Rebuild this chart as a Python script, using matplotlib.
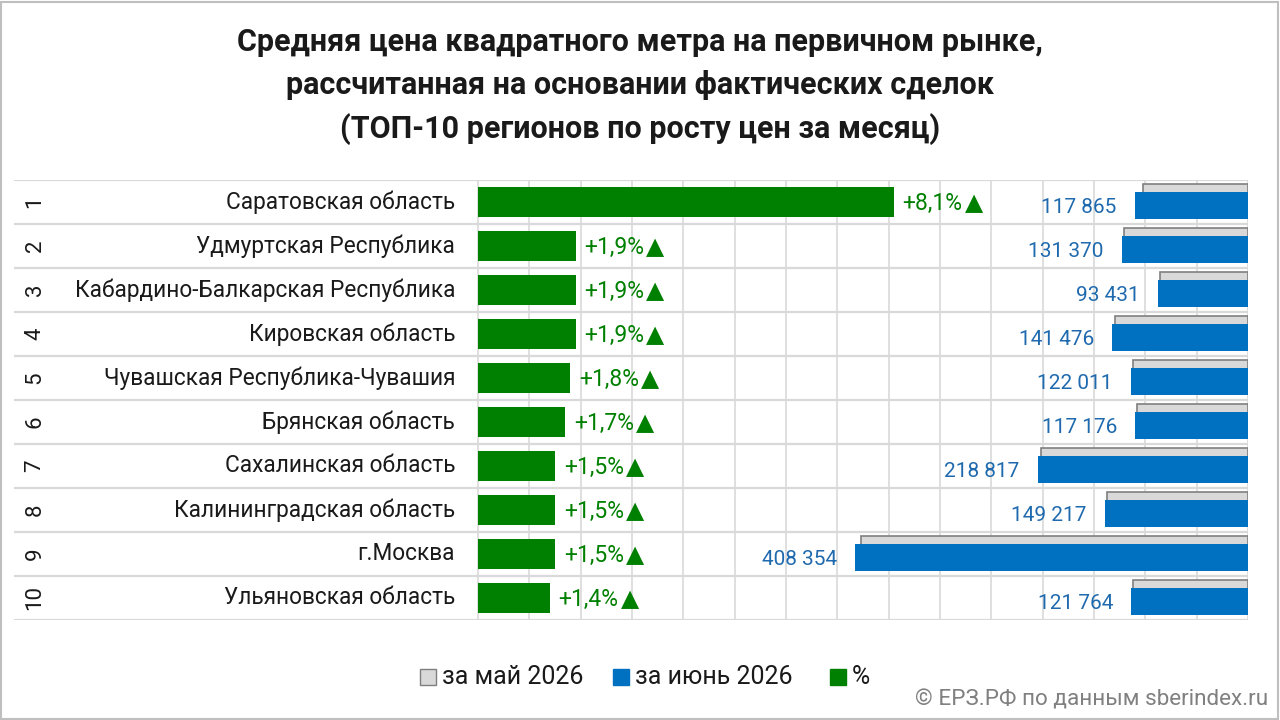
import matplotlib
matplotlib.use("Agg")
import matplotlib.pyplot as plt
from matplotlib.patches import Rectangle

plt.rcParams['font.family'] = ['Roboto', 'DejaVu Sans']

ranks = ["1", "2", "3", "4", "5", "6", "7", "8", "9", "10"]
regions = ["Саратовская область", "Удмуртская Республика", "Кабардино-Балкарская Республика",
           "Кировская область", "Чувашская Республика-Чувашия", "Брянская область",
           "Сахалинская область", "Калининградская область", "г.Москва", "Ульяновская область"]
pct = [8.1, 1.9, 1.9, 1.9, 1.8, 1.7, 1.5, 1.5, 1.5, 1.4]
june = [117865, 131370, 93431, 141476, 122011, 117176, 218817, 149217, 408354, 121764]
may = [109034, 128920, 91686, 138836, 119853, 115217, 215583, 147012, 402319, 120083]

title = ("Средняя цена квадратного метра на первичном рынке,\n"
         "рассчитанная на основании фактических сделок\n"
         "(ТОП-10 регионов по росту цен за месяц)")

GREEN = "#008000"
BLUE = "#0070C0"
BLUE_TXT = "#1F6AAE"
GREY = "#D9D9D9"
GRID = "#D9D9D9"
TXT = "#1A1A1A"

W, H = 1280, 720
fig = plt.figure(figsize=(12.8, 7.2), dpi=100)
fig.patch.set_facecolor("white")
fig.patches.append(Rectangle((1 / W, 1 / H), 1 - 3 / W, 1 - 3 / H, transform=fig.transFigure,
                             fill=False, edgecolor="#BFBFBF", lw=1.5))

x_left, x_right, y_top, y_bot = 14, 1248, 180, 620
ax = fig.add_axes([x_left / W, 1 - y_bot / H, (x_right - x_left) / W, (y_bot - y_top) / H])
px_per_unit = 51.33
xmin = -(478 - x_left) / px_per_unit
ax.set_xlim(xmin, 15)
ax.set_ylim(10, 0)
for s in ax.spines.values():
    s.set_visible(False)
ax.set_xticks([])
ax.set_yticks([])

n = len(regions)
ax.hlines(range(n + 1), xmin, 15, color=GRID, lw=1.6, zorder=0)
ax.vlines(range(16), 0, n, color=GRID, lw=1.2, zorder=0)

ypos = [i + 0.5 for i in range(n)]
ax.barh(ypos, pct, height=0.68, color=GREEN, zorder=2)
for y, v in zip(ypos, pct):
    t = ax.text(v + 0.17, y + 0.03, "+" + f"{v:.1f}".replace(".", ",") + "%", color=GREEN,
                fontsize=16.5, va="center", ha="left", zorder=3)
    ax.annotate("▲", xy=(1, 0.5), xycoords=t, xytext=(1.5, 0), textcoords="offset points",
                ha="left", va="center", color=GREEN, fontsize=17, family="DejaVu Sans")

name_x = -(478 - 455) / px_per_unit
num_x = -(478 - 35) / px_per_unit
for y, r, nm in zip(ypos, ranks, regions):
    ax.text(name_x, y, nm, ha="right", va="center", fontsize=16.3, color=TXT)
    ax.text(num_x, y, r, ha="center", va="center", fontsize=16, color=TXT, rotation=90)

ax2 = ax.twiny()
ax2.set_xlim((x_right - x_left) * 1040, 0)
ax2.set_ylim(10, 0)
for s in ax2.spines.values():
    s.set_visible(False)
ax2.set_xticks([])
ax2.set_yticks([])
yb = [i + 0.58 for i in range(n)]
yg = [i + 0.40 for i in range(n)]
ax2.barh(yg, may, height=0.61, color=GREY, edgecolor="#7F7F7F", lw=1.2, zorder=1)
ax2.barh(yb, june, height=0.61, color=BLUE, zorder=2)
for y, v in zip(yb, june):
    ax2.text(v + 18 * 1040, y + 0.04, f"{v:,}".replace(",", " "), color=BLUE_TXT,
             fontsize=15, ha="right", va="center", zorder=3)

fig.text(0.5, 1 - 86 / H, title, ha="center", va="center", fontsize=22, fontweight="bold",
         color=TXT, linespacing=1.52)

# legend
ly = 1 - 677 / H
items = [(420, GREY, "#7F7F7F", "за май 2026"), (613, BLUE, BLUE, "за июнь 2026"),
         (830, GREEN, GREEN, "%")]
for x0, fc, ec, lab in items:
    fig.patches.append(Rectangle((x0 / W, ly - 8 / H), 16 / W, 16 / H, transform=fig.transFigure,
                                 facecolor=fc, edgecolor=ec, lw=1))
    fig.text((x0 + 22) / W, ly, lab, ha="left", va="center", fontsize=18, color=TXT)

fig.text(1268 / W, 1 - 700 / H, "© ЕРЗ.РФ по данным sberindex.ru", ha="right", va="center",
         fontsize=16.2, color="#808080")

fig.savefig("out.png", dpi=100)
